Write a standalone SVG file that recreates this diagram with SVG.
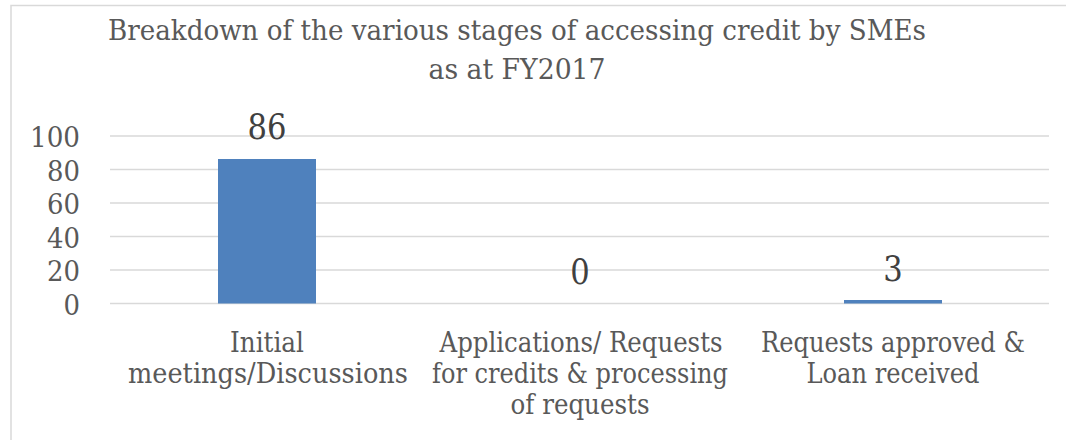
<svg xmlns="http://www.w3.org/2000/svg" width="1066" height="440" viewBox="0 0 1066 440">
<style>
text{font-family:"DejaVu Serif","Liberation Serif",serif;fill:#595959}
.t{font-size:28px;text-anchor:middle}
.ax{font-size:27px;text-anchor:end}
.cat{font-size:27px;text-anchor:middle}
.dl{font-size:35px;text-anchor:middle;fill:#404040}
.g{stroke:#d9d9d9;stroke-width:1.5}
.bar{fill:#4f81bd}
</style>
<rect x="0" y="0" width="1066" height="440" fill="#ffffff"/>
<rect x="11" y="5.5" width="1070" height="450" fill="none" stroke="#d9d9d9" stroke-width="1.5"/>
<g id="title">
<text class="t" x="517" y="40" textLength="818" lengthAdjust="spacingAndGlyphs">Breakdown of the various stages of accessing credit by SMEs</text>
<text class="t" x="517" y="79" textLength="177" lengthAdjust="spacingAndGlyphs">as at FY2017</text>
</g>
<g id="gridlines">
<line class="g" x1="110" y1="136" x2="1049" y2="136"/>
<line class="g" x1="110" y1="169.5" x2="1049" y2="169.5"/>
<line class="g" x1="110" y1="203" x2="1049" y2="203"/>
<line class="g" x1="110" y1="236.5" x2="1049" y2="236.5"/>
<line class="g" x1="110" y1="270" x2="1049" y2="270"/>
<line class="g" x1="110" y1="303.5" x2="1049" y2="303.5"/>
</g>
<g id="axis">
<text class="ax" x="80" y="147" textLength="50" lengthAdjust="spacingAndGlyphs">100</text>
<text class="ax" x="80" y="180.5" textLength="33" lengthAdjust="spacingAndGlyphs">80</text>
<text class="ax" x="80" y="214" textLength="33" lengthAdjust="spacingAndGlyphs">60</text>
<text class="ax" x="80" y="247.5" textLength="33" lengthAdjust="spacingAndGlyphs">40</text>
<text class="ax" x="80" y="281" textLength="33" lengthAdjust="spacingAndGlyphs">20</text>
<text class="ax" x="80" y="314.5" textLength="16.5" lengthAdjust="spacingAndGlyphs">0</text>
</g>
<g id="bar1">
<rect class="bar" x="218" y="159" width="98" height="144.5"/>
<text class="dl" x="267" y="139" textLength="39" lengthAdjust="spacingAndGlyphs">86</text>
<text class="cat" x="267" y="352" textLength="74" lengthAdjust="spacingAndGlyphs">Initial</text>
<text class="cat" x="268" y="383" textLength="280" lengthAdjust="spacingAndGlyphs">meetings/Discussions</text>
</g>
<g id="bar2">
<text class="dl" x="580" y="283.5" textLength="19.5" lengthAdjust="spacingAndGlyphs">0</text>
<text class="cat" x="581" y="352" textLength="283" lengthAdjust="spacingAndGlyphs">Applications/ Requests</text>
<text class="cat" x="580" y="383" textLength="296" lengthAdjust="spacingAndGlyphs">for credits &amp; processing</text>
<text class="cat" x="580" y="414" textLength="139" lengthAdjust="spacingAndGlyphs">of requests</text>
</g>
<g id="bar3">
<rect class="bar" x="844" y="300" width="98" height="3.5"/>
<text class="dl" x="893" y="281" textLength="19.5" lengthAdjust="spacingAndGlyphs">3</text>
<text class="cat" x="893" y="352" textLength="264" lengthAdjust="spacingAndGlyphs">Requests approved &amp;</text>
<text class="cat" x="893" y="383" textLength="173" lengthAdjust="spacingAndGlyphs">Loan received</text>
</g>
</svg>
